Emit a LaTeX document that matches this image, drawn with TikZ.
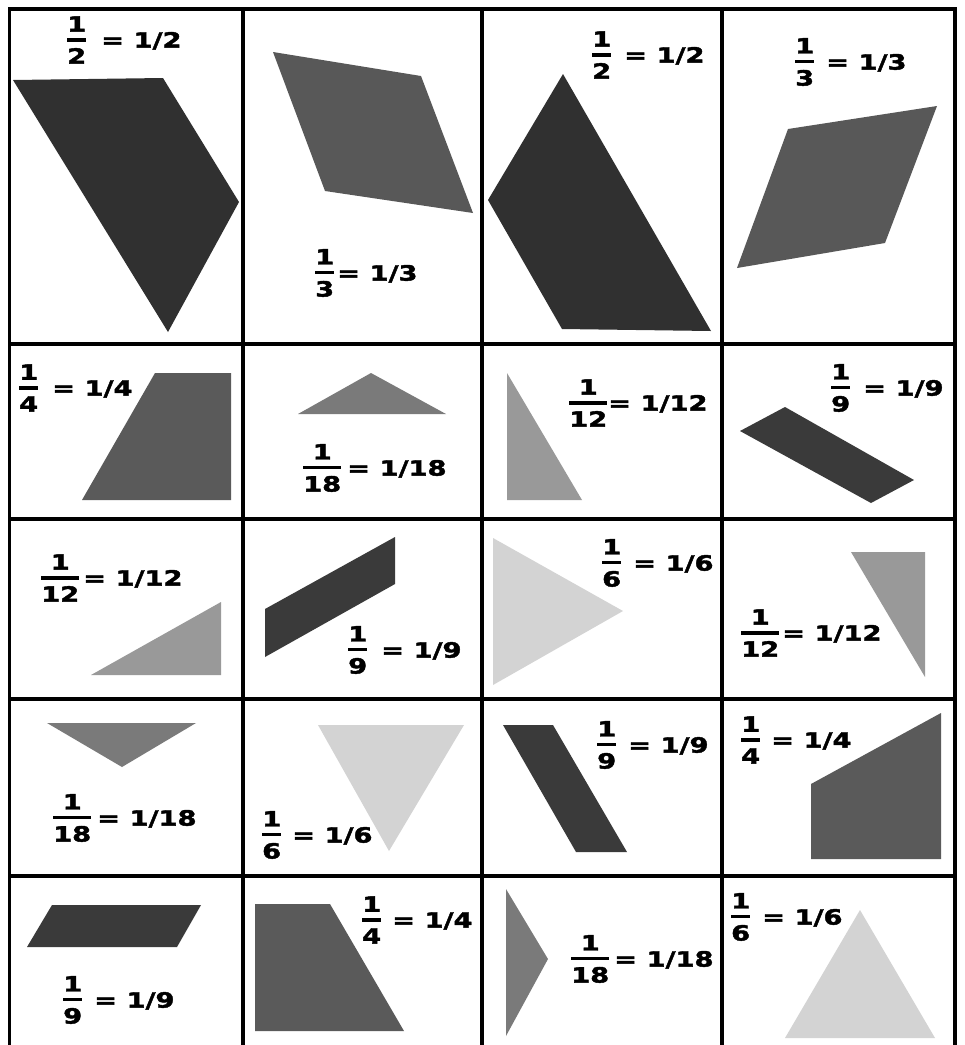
\documentclass[tikz,border=0pt]{standalone}
\usepackage{fontspec}
\newfontfamily\lblfont{DejaVu Sans}[FakeStretch=1.3,FakeBold=2]
\newcommand\fr[2]{\raisebox{2.4pt}{$\vcenter{\offinterlineskip\halign{\hfil##\hfil\cr#1\cr\noalign{\kern6.5pt\hrule height3.5pt\kern6.5pt}#2\cr}}$}}
\definecolor{chalf}{HTML}{303030}
\definecolor{cthird}{HTML}{585858}
\definecolor{cquarter}{HTML}{5A5A5A}
\definecolor{csixth}{HTML}{D3D3D3}
\definecolor{cninth}{HTML}{3A3A3A}
\definecolor{ctwelfth}{HTML}{999999}
\definecolor{ceighteenth}{HTML}{7A7A7A}
\begin{document}
\begin{tikzpicture}[x=1pt,y=-1pt,
  grid/.style={line width=3.5pt,black},
  lbl/.style={anchor=west,inner sep=0pt,font=\lblfont\bfseries\fontsize{21}{25}\selectfont}]
\useasboundingbox (0,0) rectangle (965,1045);
\fill[white] (0,0) rectangle (965,1045);
% shapes row 1
\fill[chalf] (13,80) -- (163,78) -- (239,202) -- (168,332) -- cycle;
\fill[cthird] (273,52) -- (421,76) -- (473,213) -- (325,191) -- cycle;
\fill[chalf] (563,74) -- (711,331) -- (562,329) -- (488,200) -- cycle;
\fill[cthird] (788,129) -- (937,106) -- (885,243) -- (737,268) -- cycle;
% row 2
\fill[cquarter] (155,373) -- (231,373) -- (231,500) -- (82,500) -- cycle;
\fill[ceighteenth] (298,414) -- (371,373) -- (446,414) -- cycle;
\fill[ctwelfth] (507,373) -- (507,500) -- (582,500) -- cycle;
\fill[cninth] (740,431) -- (785,407) -- (914,480) -- (871,503) -- cycle;
% row 3
\fill[ctwelfth] (91,675) -- (221,602) -- (221,675) -- cycle;
\fill[cninth] (265,609) -- (395,537) -- (395,584) -- (265,657) -- cycle;
\fill[csixth] (493,538) -- (623,611) -- (493,685) -- cycle;
\fill[ctwelfth] (851,552) -- (925,552) -- (925,677) -- cycle;
% row 4
\fill[ceighteenth] (47,723) -- (196,723) -- (122,767) -- cycle;
\fill[csixth] (318,725) -- (464,725) -- (389,851) -- cycle;
\fill[cninth] (503,725) -- (553,725) -- (627,852) -- (576,852) -- cycle;
\fill[cquarter] (811,784) -- (941,713) -- (941,859) -- (811,859) -- cycle;
% row 5
\fill[cninth] (52,905) -- (201,905) -- (177,947) -- (27,947) -- cycle;
\fill[cquarter] (255,904) -- (330,904) -- (404,1031) -- (255,1031) -- cycle;
\fill[ceighteenth] (506,889) -- (548,959) -- (506,1036) -- cycle;
\fill[csixth] (860,910) -- (935,1038) -- (785,1038) -- cycle;
% grid
\draw[grid] (9.5,1045) -- (9.5,9) -- (955,9) -- (955,1045);
\draw[grid] (243,9) -- (243,1045);
\draw[grid] (482,9) -- (482,1045);
\draw[grid] (722,9) -- (722,1045);
\draw[grid] (9.5,344) -- (955,344);
\draw[grid] (9.5,519) -- (955,519);
\draw[grid] (9.5,699) -- (955,699);
\draw[grid] (9.5,876) -- (955,876);
% labels
\node[lbl] (l11) at (67,40) {\fr{1}{2}\hspace{15pt}= 1/2};
\node[lbl] (l12) at (315,273) {\fr{1}{3}\hspace{3pt}= 1/3};
\node[lbl] (l13) at (592,55) {\fr{1}{2}\hspace{13pt}= 1/2};
\node[lbl] (l14) at (795,62) {\fr{1}{3}\hspace{12pt}= 1/3};
\node[lbl] (l21) at (19,388) {\fr{1}{4}\hspace{14pt}= 1/4};
\node[lbl] (l22) at (303,468) {\fr{1}{18}\hspace{6pt}= 1/18};
\node[lbl] (l23) at (569,403) {\fr{1}{12}\hspace{1pt}= 1/12};
\node[lbl] (l24) at (831,388) {\fr{1}{9}\hspace{13pt}= 1/9};
\node[lbl] (l31) at (41,578) {\fr{1}{12}\hspace{4pt}= 1/12};
\node[lbl] (l32) at (348,650) {\fr{1}{9}\hspace{14pt}= 1/9};
\node[lbl] (l33) at (602,563) {\fr{1}{6}\hspace{12pt}= 1/6};
\node[lbl] (l34) at (741,633) {\fr{1}{12}\hspace{3pt}= 1/12};
\node[lbl] (l41) at (53,818) {\fr{1}{18}\hspace{6pt}= 1/18};
\node[lbl] (l42) at (262,835) {\fr{1}{6}\hspace{11pt}= 1/6};
\node[lbl] (l43) at (597,745) {\fr{1}{9}\hspace{12pt}= 1/9};
\node[lbl] (l44) at (741,740) {\fr{1}{4}\hspace{11pt}= 1/4};
\node[lbl] (l51) at (63,1000) {\fr{1}{9}\hspace{12pt}= 1/9};
\node[lbl] (l52) at (362,920) {\fr{1}{4}\hspace{11pt}= 1/4};
\node[lbl] (l53) at (571,959) {\fr{1}{18}\hspace{5pt}= 1/18};
\node[lbl] (l54) at (731,917) {\fr{1}{6}\hspace{12pt}= 1/6};
\end{tikzpicture}
\end{document}
